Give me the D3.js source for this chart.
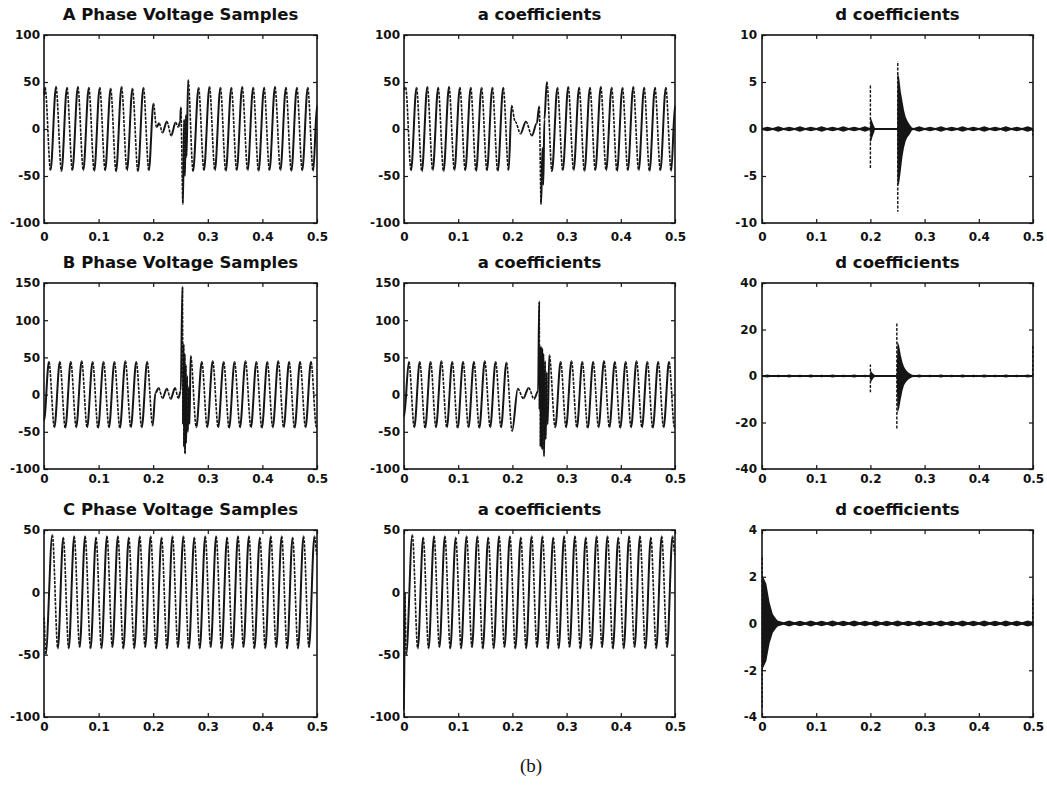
<!DOCTYPE html>
<html>
<head>
<meta charset="utf-8">
<script src="https://cdn.jsdelivr.net/npm/d3@7"></script>
<style>
  body { margin: 0; background: #fff; }
  svg text { font-family: "DejaVu Sans", sans-serif; font-weight: bold; fill: #111; }
</style>
</head>
<body>
<svg id="chart" width="1047" height="798"></svg>
<script>
// Wavelet decomposition of three phase voltages: samples, a and d coefficients

// ---- data ----
const titles = [
  ["A Phase Voltage Samples", "a coefficients", "d coefficients"],
  ["B Phase Voltage Samples", "a coefficients", "d coefficients"],
  ["C Phase Voltage Samples", "a coefficients", "d coefficients"]
];

const xTicks = [0, 0.1, 0.2, 0.3, 0.4, 0.5];
const yTicksA = [-100, -50, 0, 50, 100];
const yTicksB = [-100, -50, 0, 50, 100, 150];
const yTicksC = [-100, -50, 0, 50];
const yTicksDA = [-10, -5, 0, 5, 10];
const yTicksDB = [-40, -20, 0, 20, 40];
const yTicksDC = [-4, -2, 0, 2, 4];

// waveform turning points [time, value]
const phaseA = [
  [0, 36], [0.002, 44], [0.012, -44], [0.022, 45], [0.032, -45], [0.042, 44], [0.052, -44],
  [0.062, 45], [0.072, -44], [0.082, 44], [0.092, -45], [0.102, 44], [0.112, -44], [0.122, 43],
  [0.132, -45], [0.142, 45], [0.152, -44], [0.162, 43], [0.172, -45], [0.182, 44], [0.192, -44],
  [0.2005, 27], [0.206, 2], [0.211, 6], [0.217, -4], [0.225, 8], [0.233, -7], [0.241, 7],
  [0.246, 2], [0.2495, 8], [0.2505, 23], [0.2545, -80], [0.2565, 10], [0.258, -50], [0.26, 15],
  [0.261, -30], [0.264, 52],
  [0.273, -45], [0.283, 44], [0.293, -44], [0.303, 45], [0.313, -44], [0.323, 44], [0.333, -45],
  [0.343, 44], [0.353, -44], [0.363, 45], [0.373, -44], [0.383, 44], [0.393, -45], [0.403, 44],
  [0.413, -44], [0.423, 45], [0.433, -44], [0.443, 44], [0.453, -45], [0.463, 44], [0.473, -44],
  [0.483, 44], [0.493, -45], [0.5, 25]
];

const aCoefA = [
  [0, 42], [0.003, 44], [0.013, -44], [0.023, 44], [0.033, -45], [0.043, 45], [0.053, -44],
  [0.063, 44], [0.073, -45], [0.083, 45], [0.093, -44], [0.103, 44], [0.113, -44], [0.123, 44],
  [0.133, -45], [0.143, 44], [0.153, -44], [0.163, 44], [0.173, -45], [0.183, 44], [0.193, -44],
  [0.1985, 25], [0.205, 8], [0.215, -5], [0.225, 8], [0.236, -7], [0.245, 6], [0.2495, 24],
  [0.253, -80], [0.2555, -20], [0.257, -60], [0.259, 10], [0.2635, 50],
  [0.273, -45], [0.283, 44], [0.293, -44], [0.303, 45], [0.313, -44], [0.323, 44], [0.333, -45],
  [0.343, 44], [0.353, -44], [0.363, 45], [0.373, -44], [0.383, 44], [0.393, -45], [0.403, 44],
  [0.413, -44], [0.423, 45], [0.433, -44], [0.443, 44], [0.453, -45], [0.463, 44], [0.473, -44],
  [0.483, 44], [0.493, -45], [0.5, 25]
];

const phaseB = [
  [0, -35], [0.009, 44], [0.019, -44], [0.029, 44], [0.039, -45], [0.049, 44], [0.059, -44],
  [0.069, 45], [0.079, -44], [0.089, 44], [0.099, -45], [0.109, 44], [0.119, -44], [0.129, 44],
  [0.139, -45], [0.149, 45], [0.159, -44], [0.169, 44], [0.179, -44], [0.189, 44], [0.199, -42],
  [0.204, 2], [0.21, 9], [0.217, -5], [0.225, 8], [0.232, -6], [0.24, 9], [0.246, -5],
  [0.2505, 5], [0.2535, 145], [0.2545, -40], [0.2555, 68], [0.2565, -70], [0.2575, 55],
  [0.2585, -80], [0.2595, 40], [0.2605, -65], [0.262, 25], [0.2635, -50], [0.265, 10],
  [0.2665, -40], [0.2685, 52],
  [0.279, -44], [0.289, 44], [0.299, -44], [0.309, 45], [0.319, -44], [0.329, 44], [0.339, -45],
  [0.349, 44], [0.359, -44], [0.369, 45], [0.379, -44], [0.389, 44], [0.399, -45], [0.409, 44],
  [0.419, -44], [0.429, 45], [0.439, -44], [0.449, 44], [0.459, -45], [0.469, 44], [0.479, -44],
  [0.489, 44], [0.499, -44], [0.5, -43]
];

const aCoefB = [
  [0, -30], [0.009, 44], [0.019, -44], [0.029, 44], [0.039, -45], [0.049, 44], [0.059, -44],
  [0.069, 45], [0.079, -44], [0.089, 44], [0.099, -45], [0.109, 44], [0.119, -44], [0.129, 44],
  [0.139, -45], [0.149, 45], [0.159, -44], [0.169, 44], [0.179, -44], [0.189, 43], [0.1995, -49],
  [0.21, 8], [0.22, -5], [0.23, 9], [0.24, -6], [0.2475, 5],
  [0.2494, 125], [0.2502, -20], [0.251, 65], [0.252, -70], [0.253, 64], [0.254, -72],
  [0.255, 62], [0.256, -74], [0.257, 55], [0.2586, -83], [0.26, 45], [0.2615, -60],
  [0.263, 30], [0.265, -40], [0.268, 53],
  [0.279, -44], [0.289, 44], [0.299, -44], [0.309, 45], [0.319, -44], [0.329, 44], [0.339, -45],
  [0.349, 44], [0.359, -44], [0.369, 45], [0.379, -44], [0.389, 44], [0.399, -45], [0.409, 44],
  [0.419, -44], [0.429, 45], [0.439, -44], [0.449, 44], [0.459, -45], [0.469, 44], [0.479, -44],
  [0.489, 44], [0.499, -44], [0.5, -43]
];

const phaseC = [
  [0, -20], [0.003, -50], [0.0153, 46], [0.0253, -45], [0.0353, 44], [0.0453, -45], [0.0553, 45],
  [0.0653, -44], [0.0753, 45], [0.0853, -45], [0.0953, 44], [0.1053, -45], [0.1153, 45],
  [0.1253, -44], [0.1353, 45], [0.1453, -45], [0.1553, 44], [0.1653, -45], [0.1753, 45],
  [0.1853, -44], [0.1953, 45], [0.2053, -45], [0.2153, 44], [0.2253, -45], [0.2353, 45],
  [0.2453, -44], [0.2553, 45], [0.2653, -45], [0.2753, 44], [0.2853, -45], [0.2953, 45],
  [0.3053, -44], [0.3153, 45], [0.3253, -45], [0.3353, 44], [0.3453, -45], [0.3553, 45],
  [0.3653, -44], [0.3753, 45], [0.3853, -45], [0.3953, 44], [0.4053, -45], [0.4153, 45],
  [0.4253, -44], [0.4353, 45], [0.4453, -45], [0.4553, 44], [0.4653, -45], [0.4753, 45],
  [0.4853, -44], [0.4953, 45], [0.5, 30]
];

const aCoefC = [
  [0, -95], [0.0015, 0], [0.004, -50], [0.0154, 46], [0.0254, -45], [0.0354, 44], [0.0454, -45],
  [0.0554, 45], [0.0654, -44], [0.0754, 45], [0.0854, -45], [0.0954, 44], [0.1054, -45],
  [0.1154, 45], [0.1254, -44], [0.1354, 45], [0.1454, -45], [0.1554, 44], [0.1654, -45],
  [0.1754, 45], [0.1854, -44], [0.1954, 45], [0.2054, -45], [0.2154, 44], [0.2254, -45],
  [0.2354, 45], [0.2454, -44], [0.2554, 45], [0.2654, -45], [0.2754, 44], [0.2854, -45],
  [0.2954, 45], [0.3054, -44], [0.3154, 45], [0.3254, -45], [0.3354, 44], [0.3454, -45],
  [0.3554, 45], [0.3654, -44], [0.3754, 45], [0.3854, -45], [0.3954, 44], [0.4054, -45],
  [0.4154, 45], [0.4254, -44], [0.4354, 45], [0.4454, -45], [0.4554, 44], [0.4654, -45],
  [0.4754, 45], [0.4854, -44], [0.4954, 45], [0.5, 30]
];

// d coefficients: baseline ripple half-width every 10 ms
const rippleA = [0.1, 0.25, 0.1, 0.3, 0.1, 0.25, 0.1, 0.3, 0.1, 0.25, 0.1, 0.3, 0.1, 0.25, 0.1,
  0.3, 0.1, 0.25, 0.1, 0.3, 0.08, 0.08, 0.08, 0.08, 0.08, 0.08, 0.1, 0.25, 0.1, 0.3, 0.1, 0.25,
  0.1, 0.3, 0.1, 0.25, 0.1, 0.3, 0.1, 0.25, 0.1, 0.3, 0.1, 0.25, 0.1, 0.3, 0.1, 0.25, 0.1, 0.3, 0.1];
const rippleB = [0.2, 0.6, 0.2, 0.5, 0.2, 0.6, 0.2, 0.5, 0.2, 0.6, 0.2, 0.5, 0.2, 0.6, 0.2,
  0.5, 0.2, 0.6, 0.2, 0.5, 0.2, 0.2, 0.2, 0.2, 0.2, 0.2, 0.2, 0.5, 0.2, 0.6, 0.2, 0.5,
  0.2, 0.6, 0.2, 0.5, 0.2, 0.6, 0.2, 0.5, 0.2, 0.6, 0.2, 0.5, 0.2, 0.6, 0.2, 0.5, 0.2, 0.6, 0.2];
const rippleC = [0.06, 0.12, 0.05, 0.12, 0.05, 0.13, 0.05, 0.12, 0.05, 0.13, 0.05, 0.12, 0.05, 0.13,
  0.05, 0.12, 0.05, 0.13, 0.05, 0.12, 0.05, 0.13, 0.05, 0.12, 0.05, 0.13, 0.05, 0.12, 0.05, 0.13,
  0.05, 0.12, 0.05, 0.13, 0.05, 0.12, 0.05, 0.13, 0.05, 0.12, 0.05, 0.13, 0.05, 0.12, 0.05, 0.13,
  0.05, 0.12, 0.05, 0.13, 0.06];

// d coefficient bursts: [time, upper envelope, lower envelope]
const burstsA = [
  [[0.1995, 0.2, -0.2], [0.2, 1.2, -1.5], [0.202, 1.0, -1.2], [0.204, 0.7, -0.8], [0.206, 0.4, -0.5], [0.208, 0.15, -0.15]],
  [[0.2495, 0.2, -0.2], [0.25, 6, -6], [0.253, 5.5, -5.8], [0.256, 4, -4.5], [0.259, 3, -3], [0.262, 2, -2],
   [0.265, 1.3, -1.3], [0.268, 0.9, -0.9], [0.272, 0.5, -0.6], [0.276, 0.2, -0.2]]
];
const burstsB = [
  [[0.1995, 0.3, -0.3], [0.2, 2.5, -3], [0.203, 1.5, -1.8], [0.206, 0.8, -0.8], [0.209, 0.3, -0.3]],
  [[0.2485, 0.3, -0.3], [0.25, 15, -16], [0.253, 13, -14], [0.256, 9, -10], [0.259, 6, -6.5], [0.262, 4, -4],
   [0.266, 2.5, -2.5], [0.27, 1.5, -1.5], [0.275, 0.8, -0.8], [0.28, 0.3, -0.3]]
];
const burstsC = [
  [[0, 2.0, -2.0], [0.002, 2.0, -1.9], [0.008, 1.7, -1.6], [0.014, 0.9, -0.85], [0.02, 0.4, -0.4],
   [0.026, 0.2, -0.2], [0.03, 0.1, -0.1]]
];

// single spikes: [time, top, bottom]
const spikesA = [[0.2, 4.7, -4.2], [0.2505, 7.2, -8.8], [0.4995, 0, -0.7]];
const spikesB = [[0.2, 5, -7], [0.2488, 23, -23], [0.4995, 13, 0]];
const spikesC = [[0.0005, 2.9, -3.6], [0.4995, 1.2, -0.2]];

// ---- layout ----
const colBox = [{ x: 44, w: 273 }, { x: 404, w: 271 }, { x: 762, w: 271 }];
const rowBox = [{ y: 35, h: 188 }, { y: 283, h: 186 }, { y: 530, h: 187 }];
const xLabelPad = [9, 5, 5];

const svg = d3.select("#chart");
const ink = "#151515";

function makePanel(r, c, yDomain, yTicks) {
  const b = { x: colBox[c].x, y: rowBox[r].y, w: colBox[c].w, h: rowBox[r].h };
  const g = svg.append("g").attr("transform", "translate(" + b.x + "," + b.y + ")");
  const x = d3.scaleLinear().domain([0, 0.5]).range([0, b.w]);
  const y = d3.scaleLinear().domain(yDomain).range([b.h, 0]);

  const clipId = "clip" + r + c;
  g.append("clipPath").attr("id", clipId)
    .append("rect").attr("x", -1).attr("y", -1).attr("width", b.w + 2).attr("height", b.h + 2);

  const plot = g.append("g").attr("clip-path", "url(#" + clipId + ")");

  // axes, MATLAB style ticks pointing inwards
  const fmt = d => String(d);
  g.append("g").attr("transform", "translate(0," + b.h + ")")
    .call(d3.axisBottom(x).tickValues(xTicks).tickFormat(fmt).tickSize(-4).tickPadding(xLabelPad[r]));
  g.append("g")
    .call(d3.axisTop(x).tickValues(xTicks).tickFormat("").tickSize(-4));
  g.append("g")
    .call(d3.axisLeft(y).tickValues(yTicks).tickFormat(fmt).tickSize(-4).tickPadding(c === 2 ? 5 : 4));
  g.append("g").attr("transform", "translate(" + b.w + ",0)")
    .call(d3.axisRight(y).tickValues(yTicks).tickFormat("").tickSize(-4));
  g.selectAll(".domain").remove();
  g.selectAll(".tick line").attr("stroke", ink).attr("stroke-width", 1.2);
  g.selectAll(".tick text").attr("font-size", 12).attr("font-family", "DejaVu Sans")
    .attr("font-weight", "bold").attr("fill", ink);

  g.append("rect").attr("width", b.w).attr("height", b.h)
    .attr("fill", "none").attr("stroke", ink).attr("stroke-width", 1.6);

  g.append("text").attr("x", b.w / 2).attr("y", -15).attr("text-anchor", "middle")
    .attr("font-size", 16.5).text(titles[r][c]);

  return { plot, x, y };
}

// sinusoid drawn edge by edge: rising edges solid, falling edges dashed
function drawWave(p, pts) {
  for (let i = 0; i < pts.length - 1; i++) {
    const x0 = p.x(pts[i][0]), y0 = p.y(pts[i][1]);
    const x1 = p.x(pts[i + 1][0]), y1 = p.y(pts[i + 1][1]);
    const k = (x1 - x0) / 3;
    const path = d3.path();
    path.moveTo(x0, y0);
    path.bezierCurveTo(x0 + k, y0, x1 - k, y1, x1, y1);
    const falling = pts[i + 1][1] < pts[i][1];
    p.plot.append("path").attr("d", path.toString())
      .attr("fill", "none").attr("stroke", ink).attr("stroke-width", falling ? 1.6 : 2)
      .attr("stroke-dasharray", falling ? "3,1.2" : null);
  }
}

function drawDetail(p, ripple, bursts, spikes) {
  const band = d3.area()
    .x((d, i) => p.x(i * 0.01))
    .y0(d => p.y(-d))
    .y1(d => p.y(d));
  p.plot.append("path").datum(ripple).attr("d", band).attr("fill", ink);
  p.plot.append("line").attr("x1", 0).attr("x2", p.x(0.5))
    .attr("y1", p.y(0)).attr("y2", p.y(0)).attr("stroke", ink).attr("stroke-width", 2);

  const env = d3.area().x(d => p.x(d[0])).y0(d => p.y(d[2])).y1(d => p.y(d[1]));
  bursts.forEach(bu => {
    p.plot.append("path").datum(bu).attr("d", env).attr("fill", ink);
  });
  spikes.forEach(s => {
    p.plot.append("line").attr("x1", p.x(s[0])).attr("x2", p.x(s[0]))
      .attr("y1", p.y(0)).attr("y2", p.y(s[1]))
      .attr("stroke", ink).attr("stroke-width", 1.4).attr("stroke-dasharray", "3,1.5");
    p.plot.append("line").attr("x1", p.x(s[0])).attr("x2", p.x(s[0]))
      .attr("y1", p.y(0)).attr("y2", p.y(s[2]))
      .attr("stroke", ink).attr("stroke-width", 1.4).attr("stroke-dasharray", "3,1.5");
  });
}

drawWave(makePanel(0, 0, [-100, 100], yTicksA), phaseA);
drawWave(makePanel(0, 1, [-100, 100], yTicksA), aCoefA);
drawDetail(makePanel(0, 2, [-10, 10], yTicksDA), rippleA, burstsA, spikesA);

drawWave(makePanel(1, 0, [-100, 150], yTicksB), phaseB);
drawWave(makePanel(1, 1, [-100, 150], yTicksB), aCoefB);
drawDetail(makePanel(1, 2, [-40, 40], yTicksDB), rippleB, burstsB, spikesB);

drawWave(makePanel(2, 0, [-100, 50], yTicksC), phaseC);
drawWave(makePanel(2, 1, [-100, 50], yTicksC), aCoefC);
drawDetail(makePanel(2, 2, [-4, 4], yTicksDC), rippleC, burstsC, spikesC);

svg.append("text").attr("x", 531).attr("y", 772).attr("text-anchor", "middle")
  .style("font-family", "'Liberation Serif', serif").style("font-weight", "normal")
  .attr("font-size", 19).text("(b)");
</script>
</body>
</html>
